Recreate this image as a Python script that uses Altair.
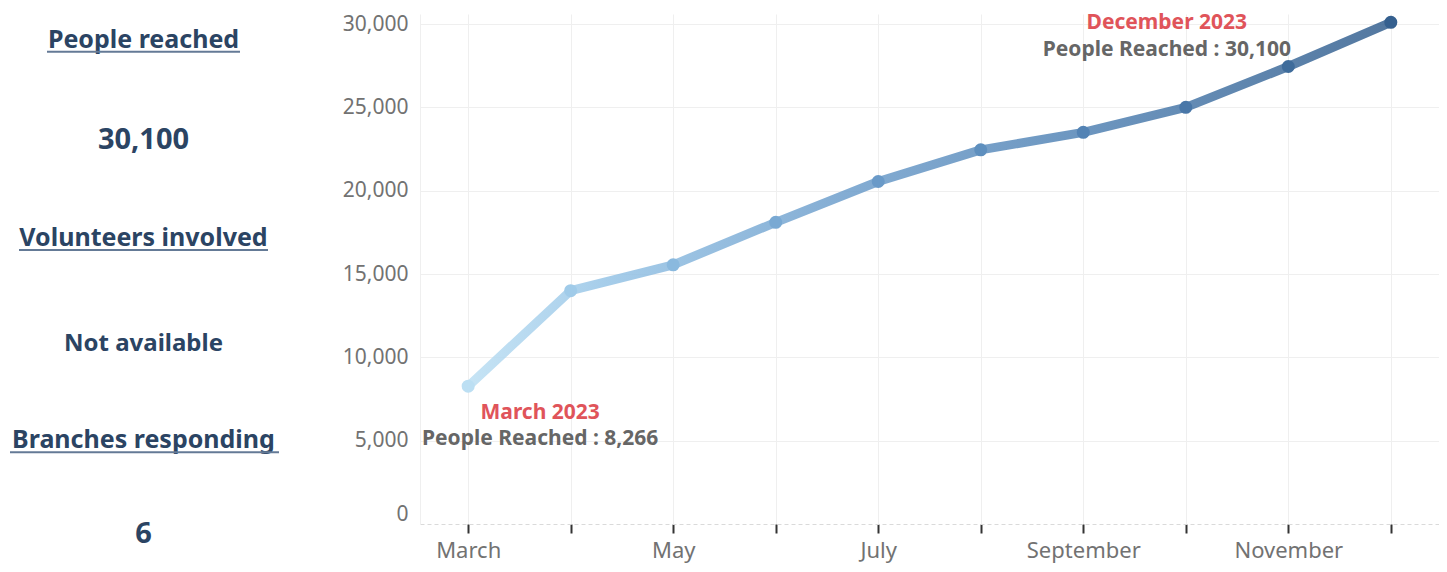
import json
import altair as alt
import pandas as pd

# ---------------- data ----------------
months = ["March", "April", "May", "June", "July", "August",
          "September", "October", "November", "December"]
people = [8266, 14000, 15550, 18100, 20550, 22450, 23500, 25000, 27450, 30100]
labeled_months = ["March", "May", "July", "September", "November"]
y_tick_values = [0, 5000, 10000, 15000, 20000, 25000, 30000]
year_label = "2023"

kpi_labels = ["People reached", "Volunteers involved", "Branches responding"]
kpi_values = ["30,100", "Not available", "6"]

# ---------------- style ----------------
FONT = "Noto Sans"
NAVY = "#2b4463"
UNDERLINE = "#647a96"
GRID = "#efefef"
LABEL = "#727272"
RED = "#e0545a"
DARKGRAY = "#666666"
grad_colors = ["#bcdff3", "#96c4e6", "#6f9fcc", "#5485b6", "#35608f"]
grad_offsets = [0, 0.15, 0.4, 0.65, 1]

# ---------------- KPI panel ----------------
rows, kinds, numeric = [], [], []
for h, v in zip(kpi_labels, kpi_values):
    rows += [h, v]
    kinds += ["head", "value"]
    numeric += [False, v.replace(",", "").isdigit()]
kpi_df = pd.DataFrame({"row": rows, "kind": kinds, "numeric": numeric})

ky = alt.Y("row:N", scale=alt.Scale(type="point", domain=rows, padding=0.3036), axis=None)
kbase = alt.Chart(kpi_df)
PANEL_CX = 135.5

# small vertical nudges (pixels) per row, for layout only
nudge = {
    "People reached": -4, "30,100": -2,
    "Volunteers involved": -2, "Not available": 6,
    "Branches responding": 4, "6": 0,
}
underline_extent = {
    "People reached": (39, 232),
    "Volunteers involved": (11, 260),
    "Branches responding": (2, 271),
}

layers = []
for r, k, num in zip(rows, kinds, numeric):
    size = 25 if k == "head" else (29 if num else 24)
    layers.append(
        kbase.transform_filter(alt.datum.row == r).mark_text(
            font=FONT, fontSize=size, fontWeight="bold", color=NAVY,
            align="center", baseline="middle", yOffset=nudge[r],
        ).encode(x=alt.value(PANEL_CX), y=ky, text="row:N")
    )
    if k == "head":
        a, b = underline_extent[r]
        layers.append(
            kbase.transform_filter(alt.datum.row == r).mark_rule(
                color=UNDERLINE, strokeWidth=2, yOffset=12 + nudge[r]
            ).encode(x=alt.value(a), x2=alt.value(b), y=ky)
        )

kpi = alt.layer(*layers).properties(width=300, height=550)

# ---------------- line chart ----------------
df = pd.DataFrame({"month": months, "people": people, "idx": list(range(len(months)))})
df["title"] = df["month"] + " " + year_label
df["detail"] = df["people"].map(lambda v: f"People Reached : {v:,}")

label_expr = "indexof(" + json.dumps(labeled_months) + ", datum.value) >= 0 ? datum.value : ''"

x = alt.X(
    "month:N", sort=months,
    scale=alt.Scale(type="point", domain=months, padding=0.47),
    axis=alt.Axis(
        title=None, labelAngle=0, labelExpr=label_expr,
        grid=True, gridColor=GRID,
        ticks=True, tickColor="#333333", tickSize=9, tickWidth=2,
        domain=True, domainColor="#dadada", domainDash=[4, 3],
        labelFont=FONT, labelFontSize=22, labelColor=LABEL, labelPadding=7,
    ),
)
y = alt.Y(
    "people:Q",
    scale=alt.Scale(domain=[0, 30600], nice=False, zero=True),
    axis=alt.Axis(
        title=None, values=y_tick_values, format=",.0f",
        grid=True,
        gridColor={"condition": {"test": "datum.value === 0", "value": "transparent"}, "value": GRID},
        ticks=False, tickSize=0,
        domain=True, domainColor=GRID,
        labelFont=FONT, labelFontSize=21, labelColor=LABEL, labelPadding=12,
        labelFlush=True, minExtent=112, maxExtent=112,
    ),
)

base = alt.Chart(df).encode(x=x, y=y)

line = base.mark_line(
    strokeWidth=9, opacity=0.85, strokeCap="round", strokeJoin="round",
    color=alt.LinearGradient(
        gradient="linear",
        stops=[alt.GradientStop(offset=o, color=c) for o, c in zip(grad_offsets, grad_colors)],
        x1=0, x2=1, y1=0, y2=0,
    ),
)

idx_stops = [o * (len(months) - 1) for o in grad_offsets]
points = base.mark_circle(size=170, opacity=1).encode(
    color=alt.Color("idx:Q", scale=alt.Scale(domain=idx_stops, range=grad_colors), legend=None)
)

first = df.iloc[[0]]
last = df.iloc[[-1]]

def ann(data, field, color, dx, dy):
    return alt.Chart(data).mark_text(
        font=FONT, fontSize=21, fontWeight="bold", color=color,
        align="center", baseline="middle", dx=dx, dy=dy,
    ).encode(x=x, y=y, text=f"{field}:N")

annotations = [
    ann(first, "title", RED, 72, 27),
    ann(first, "detail", DARKGRAY, 72, 53),
    ann(last, "title", RED, -224, 1),
    ann(last, "detail", DARKGRAY, -224, 28),
]

trend = alt.layer(line, points, *annotations).properties(width=1019, height=510)

chart = alt.hconcat(kpi, trend, spacing=0).properties(
    padding={"left": 0, "top": 4, "right": 0, "bottom": 4}
).configure_view(strokeWidth=0)

chart.save("out.html", embed_options={"renderer": "svg", "actions": False})
